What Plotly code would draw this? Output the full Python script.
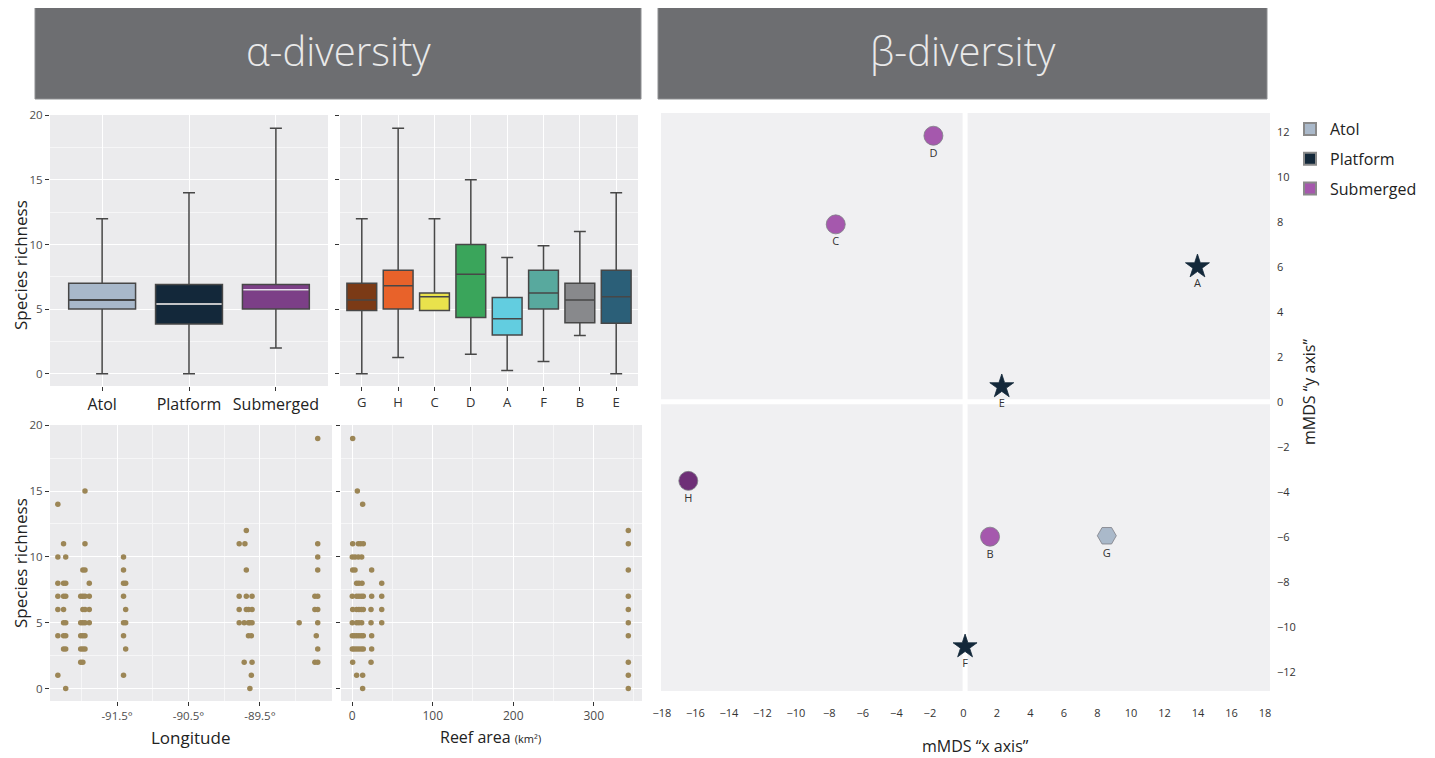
import plotly.graph_objects as go

W, H = 1435, 758          # browser window
OX, OY = 8, 8             # page body margin
FW, FH = W - OX, H - OY   # figure size

# ---------------- α-diversity : boxplots by reef type ----------------
type_names = ["Atol", "Platform", "Submerged"]
type_min = [0, 0, 2]
type_q1 = [5, 3.85, 5]
type_med = [5.7, 5.4, 6.5]
type_q3 = [7, 6.9, 6.9]
type_max = [12, 14, 19]

# ---------------- α-diversity : boxplots by site ----------------
site_names = ["G", "H", "C", "D", "A", "F", "B", "E"]
site_min = [0, 1.25, 4.9, 1.5, 0.25, 0.95, 2.95, 0]
site_q1 = [4.9, 5, 4.9, 4.35, 3, 5, 3.95, 3.9]
site_med = [5.7, 6.8, 5.95, 7.7, 4.25, 6.25, 5.7, 5.95]
site_q3 = [7, 8, 6.25, 10, 5.9, 8, 7, 8]
site_max = [12, 19, 12, 15, 9, 9.9, 11, 14]

# ---------------- α-diversity : richness vs longitude ----------------
lon_values = (
    [-92.33] * 7 + [-92.25] * 7 + [-92.22] * 7 +
    [-92.01] * 5 + [-91.98] * 7 + [-91.95] * 8 + [-91.89] * 4 +
    [-91.41] * 7 + [-91.38] * 4 +
    [-89.79] * 4 + [-89.72] * 2 + [-89.71] + [-89.69] * 4 + [-89.66] * 3 +
    [-89.64] * 2 + [-89.62] * 2 + [-89.61] * 4 +
    [-88.95] + [-88.73] * 3 + [-88.71] + [-88.69] * 9
)
lon_richness = (
    [14, 10, 8, 7, 6, 4, 1] + [11, 8, 7, 6, 5, 4, 3] + [10, 8, 7, 5, 4, 3, 0] +
    [7, 5, 4, 3, 2] + [9, 7, 6, 5, 4, 3, 2] + [15, 11, 9, 7, 6, 5, 4, 3] + [8, 7, 6, 5] +
    [10, 9, 8, 7, 5, 4, 1] + [8, 6, 5, 3] +
    [11, 7, 6, 5] + [5, 2] + [11] + [12, 9, 7, 6] + [6, 5, 4] +
    [5, 0] + [4, 1] + [7, 6, 5, 2] +
    [5] + [7, 6, 2] + [4] + [19, 11, 10, 9, 7, 6, 5, 3, 2]
)

# ---------------- α-diversity : richness vs reef area ----------------
area_values = (
    [0.5, 6.3, 12.9] +
    [0.5, 7.5, 10.4, 13.7] +
    [0, 3.4, 7.5, 11.7] +
    [0.5, 3.4, 24.1] +
    [5.4, 8.3, 12.1, 36.6] +
    [0, 5.4, 8.3, 11.2, 13.7, 24.1, 36.6] +
    [0.5, 5.4, 8.3, 11.2, 13.7, 23.3, 36.6] +
    [0, 5.4, 8.3, 11.7, 23.3, 36.6] +
    [0, 2.5, 5.4, 8.3, 11.2, 13.7, 24.1] +
    [0, 2.5, 5.4, 8.3, 11.2, 13.7, 24.1] +
    [0.5, 23.3] +
    [5.4, 12.9] +
    [12.9] +
    [343] * 10
)
area_richness = (
    [19, 15, 14] +
    [11] * 4 + [10] * 4 + [9] * 3 + [8] * 4 + [7] * 7 + [6] * 7 + [5] * 6 +
    [4] * 7 + [3] * 7 + [2] * 2 + [1] * 2 + [0] +
    [12, 11, 9, 7, 6, 5, 4, 2, 1, 0]
)

# ---------------- β-diversity : mMDS ----------------
beta_sites = ["A", "B", "C", "D", "E", "F", "G", "H"]
beta_x = [13.97, 1.59, -7.62, -1.79, 2.29, 0.1, 8.56, -16.42]
beta_y = [6.0, -6.0, 7.88, 11.82, 0.67, -10.89, -5.96, -3.52]
beta_type = ["Platform", "Submerged", "Submerged", "Submerged", "Platform", "Platform", "Atol", "Submerged"]

# ---------------- styles ----------------
type_fill = {"Atol": "#a8b8ca", "Platform": "#13283a", "Submerged": "#7c3f87"}
type_median_color = {"Atol": "#3a3a3a", "Platform": "#f2f2f2", "Submerged": "#ead8f0"}
site_fill = ["#7b3a16", "#e8622a", "#e9e24c", "#3aa55b", "#62cde0", "#58a99e", "#88898c", "#2b5f78"]
beta_color = {"Atol": "#aab9ca", "Platform": "#13283a", "Submerged": "#a558ad"}
beta_symbol = {"Atol": "hexagon2", "Platform": "star", "Submerged": "circle"}
beta_site_color = {"H": "#6e2f77"}
dot_color = "#9c8656"
panel_bg = "#ebebed"
beta_bg = "#f0f0f2"
whisker = "#474747"
FONT = "Open Sans"


def px(x):
    return (x - OX) / FW


def py(y):
    return 1 - (y - OY) / FH


def dx(a, b):
    return [px(a), px(b)]


def dy(top, bottom):
    return [py(bottom), py(top)]


fig = go.Figure()

# type boxplots (x axis 1)
type_w = 0.77
for i, name in enumerate(type_names):
    fig.add_trace(go.Box(
        x=[i + 1], q1=[type_q1[i]], median=[type_med[i]], q3=[type_q3[i]],
        lowerfence=[type_min[i]], upperfence=[type_max[i]],
        fillcolor=type_fill[name], line=dict(color=whisker, width=1.5),
        width=type_w, whiskerwidth=0.18, boxpoints=False, showlegend=False,
        xaxis="x", yaxis="y", hoverinfo="skip"))
    fig.add_shape(type="line", xref="x", yref="y",
                  x0=i + 1 - type_w / 2 + 0.01, x1=i + 1 + type_w / 2 - 0.01,
                  y0=type_med[i], y1=type_med[i],
                  line=dict(color=type_median_color[name], width=1.5))

# site boxplots (x axis 2)
site_w = 0.82
for i, name in enumerate(site_names):
    fig.add_trace(go.Box(
        x=[i + 1], q1=[site_q1[i]], median=[site_med[i]], q3=[site_q3[i]],
        lowerfence=[site_min[i]], upperfence=[site_max[i]],
        fillcolor=site_fill[i], line=dict(color=whisker, width=1.5),
        width=site_w, whiskerwidth=0.4, boxpoints=False, showlegend=False,
        xaxis="x2", yaxis="y2", hoverinfo="skip"))

# scatter vs longitude
fig.add_trace(go.Scatter(x=lon_values, y=lon_richness, mode="markers",
                         marker=dict(color=dot_color, size=5.5),
                         showlegend=False, xaxis="x3", yaxis="y3"))
# scatter vs reef area
fig.add_trace(go.Scatter(x=area_values, y=area_richness, mode="markers",
                         marker=dict(color=dot_color, size=5.5),
                         showlegend=False, xaxis="x4", yaxis="y4"))

# beta diversity points
for i, s in enumerate(beta_sites):
    t = beta_type[i]
    col = beta_site_color.get(s, beta_color[t])
    fig.add_trace(go.Scatter(
        x=[beta_x[i]], y=[beta_y[i]], mode="markers+text", text=[s],
        textposition="bottom center",
        textfont=dict(family=FONT, size=11, color="#333333"),
        marker=dict(symbol=beta_symbol[t], color=col,
                    size=19 if t != "Platform" else 18,
                    line=dict(color="#7d7d85" if t != "Platform" else col, width=0.8)),
        showlegend=False, xaxis="x5", yaxis="y5"))

# legend entries
for k, t in enumerate(["Atol", "Platform", "Submerged"]):
    fig.add_trace(go.Scatter(
        x=[None], y=[None], mode="markers", name=t, legendgroup=t,
        marker=dict(symbol="square", color=beta_color[t], size=16,
                    line=dict(color="#8a8a8a", width=1)),
        xaxis="x5", yaxis="y5"))

# beta panel background and white cross
fig.add_shape(type="rect", xref="x5 domain", yref="y5 domain", x0=0, x1=1, y0=0, y1=1,
              fillcolor=beta_bg, line=dict(width=0), layer="below")
fig.add_shape(type="line", xref="x5", yref="y5 domain", x0=0.1, x1=0.1, y0=0, y1=1,
              line=dict(color="white", width=5), layer="below")
fig.add_shape(type="line", xref="x5 domain", yref="y5", x0=0, x1=1, y0=0, y1=0,
              line=dict(color="white", width=5), layer="below")

# header boxes
for (a, b, label) in [(35, 641, "α-diversity"), (658, 1267, "β-diversity")]:
    fig.add_shape(type="rect", xref="paper", yref="paper",
                  x0=px(a), x1=px(b), y0=py(99), y1=py(7),
                  fillcolor="#6d6e71", line=dict(color="#8e8f92", width=1))
    fig.add_annotation(x=px((a + b) / 2), y=py(50), xref="paper", yref="paper",
                       xanchor="center", yanchor="middle",
                       text=label, showarrow=False,
                       font=dict(family=FONT, size=40, color="#e9e9e9", weight=300))

tickfont = dict(family=FONT, size=11.5, color="#4d4d4d")
common_y = dict(range=[-0.95, 20.02], tickvals=[0, 5, 10, 15, 20], ticks="outside",
                ticklen=4, tickcolor="#333333", tickwidth=1.3, showgrid=True,
                gridcolor="white", gridwidth=1.2, zeroline=False, showline=False,
                automargin=False,
                minor=dict(tickvals=[2.5, 7.5, 12.5, 17.5], showgrid=True,
                           gridcolor="#f6f6f7", gridwidth=0.8, ticks=""),
                tickfont=tickfont)

fig.update_layout(
    template="none",
    width=FW, height=FH, margin=dict(l=0, r=0, t=0, b=0, autoexpand=False),
    paper_bgcolor="white", plot_bgcolor=panel_bg,
    font=dict(family=FONT, color="#333333"),
    xaxis=dict(domain=dx(50, 328), anchor="y", range=[0.4, 3.6],
               tickvals=[1, 2, 3], ticktext=type_names, ticks="outside", ticklen=4,
               tickcolor="#333333", tickwidth=1.3, showgrid=True, gridcolor="white",
               gridwidth=1.2, zeroline=False, automargin=False,
               tickfont=dict(family=FONT, size=16, color="#222222")),
    yaxis=dict(domain=dy(115, 386), anchor="x", **common_y),
    xaxis2=dict(domain=dx(340, 638), anchor="y2", range=[0.4, 8.6],
                tickvals=list(range(1, 9)), ticktext=site_names, ticks="outside",
                ticklen=4, tickcolor="#333333", tickwidth=1.3, showgrid=True,
                gridcolor="white", gridwidth=1.2, zeroline=False, automargin=False,
                tickfont=dict(family=FONT, size=13, color="#333333")),
    yaxis2=dict(domain=dy(115, 386), anchor="x2", showticklabels=False, **common_y),
    xaxis3=dict(domain=dx(50, 332), anchor="y3", range=[-92.44, -88.49],
                tickvals=[-91.5, -90.5, -89.5], ticktext=["-91.5°", "-90.5°", "-89.5°"],
                ticks="outside", ticklen=4, tickcolor="#333333", tickwidth=1.3,
                showgrid=True, gridcolor="white", gridwidth=1.2, zeroline=False,
                automargin=False,
                minor=dict(tickvals=[-92, -91, -90, -89], showgrid=True,
                           gridcolor="#f6f6f7", gridwidth=0.8, ticks=""),
                tickfont=tickfont),
    yaxis3=dict(domain=dy(425, 701), anchor="x3", **common_y),
    xaxis4=dict(domain=dx(341, 642), anchor="y4", range=[-14, 360],
                tickvals=[0, 100, 200, 300], ticks="outside", ticklen=4,
                tickcolor="#333333", tickwidth=1.3, showgrid=True, gridcolor="white",
                gridwidth=1.2, zeroline=False, automargin=False,
                minor=dict(tickvals=[50, 150, 250, 350], showgrid=True,
                           gridcolor="#f6f6f7", gridwidth=0.8, ticks=""),
                tickfont=dict(family=FONT, size=12, color="#4d4d4d")),
    yaxis4=dict(domain=dy(425, 701), anchor="x4", showticklabels=False, **common_y),
    xaxis5=dict(domain=dx(661, 1270), anchor="y5", range=[-18.05, 18.3],
                tickvals=list(range(-18, 19, 2)), showgrid=False, zeroline=False,
                ticks="", automargin=False, ticklabelstandoff=14,
                tickfont=dict(family=FONT, size=11, color="#333333")),
    yaxis5=dict(domain=dy(113, 691), anchor="x5", side="right", range=[-12.86, 12.83],
                tickvals=list(range(-12, 13, 2)), showgrid=False, zeroline=False,
                ticks="", automargin=False, ticklabelstandoff=6,
                tickfont=dict(family=FONT, size=11, color="#333333")),
    legend=dict(x=px(1290), y=py(112), xanchor="left", yanchor="top",
                font=dict(family=FONT, size=16, color="#222222"),
                bgcolor="rgba(0,0,0,0)", tracegroupgap=6, itemsizing="constant"),
    showlegend=True,
)

# axis title annotations
ann = [
    dict(x=20, y=265, text="Species richness", textangle=-90, size=17),
    dict(x=20, y=563, text="Species richness", textangle=-90, size=17),
    dict(x=190, y=737, text="Longitude", textangle=0, size=17),
    dict(x=490, y=737,
         text="Reef area <span style='font-size:11px'>(km²)</span>", textangle=0, size=16),
    dict(x=975, y=746, text="mMDS “x axis”", textangle=0, size=16),
    dict(x=1309, y=392, text="mMDS “y axis”", textangle=-90, size=16),
]
for a in ann:
    fig.add_annotation(x=px(a["x"]), y=py(a["y"]), xref="paper", yref="paper",
                       text=a["text"], xanchor="center", yanchor="middle",
                       textangle=a["textangle"], showarrow=False,
                       font=dict(family=FONT, size=a["size"], color="#222222"))

fig.write_html("out.html")
